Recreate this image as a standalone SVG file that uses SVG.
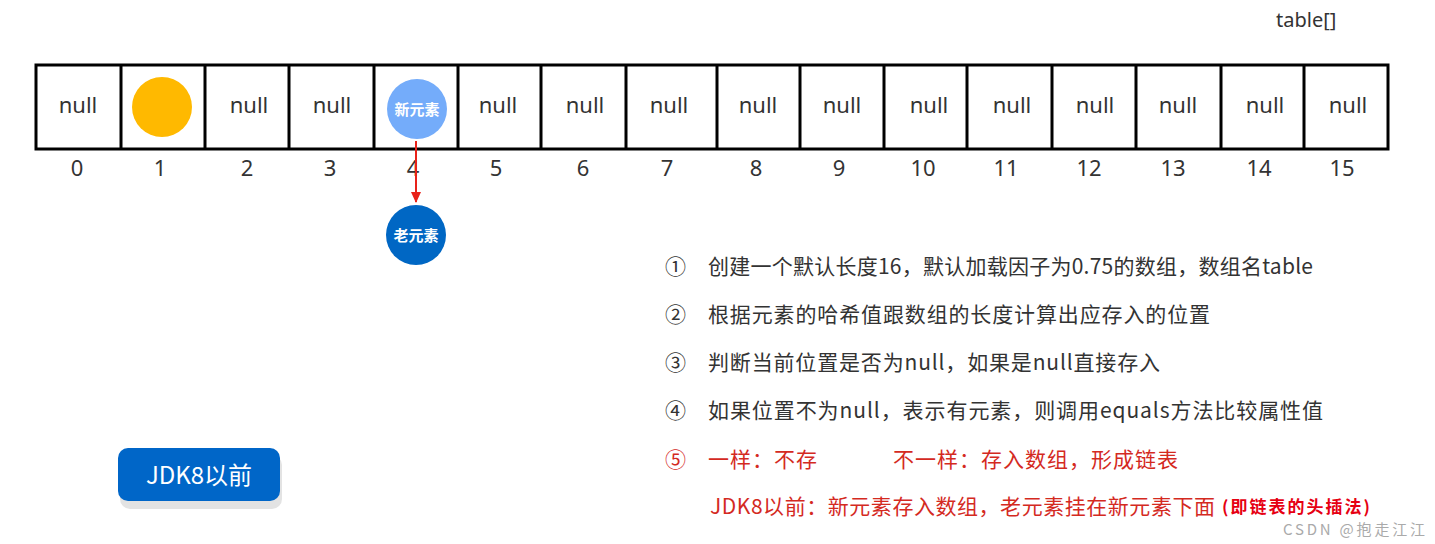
<svg xmlns="http://www.w3.org/2000/svg" width="1435" height="544" viewBox="0 0 1435 544">
<defs>
<style>
.cell{fill:#fff;stroke:#000;stroke-width:3}
.nul{font-family:"Noto Sans","Open Sans",sans-serif;font-size:22px;fill:#333;text-anchor:middle}
.idx{font-family:"Noto Sans","Open Sans",sans-serif;font-size:22px;fill:#333;text-anchor:middle}
.txt{font-family:"Noto Sans CJK SC","Noto Sans",sans-serif;font-size:21px;fill:#333}
.red{fill:#d42a1f}
.wt{font-family:"Noto Sans CJK SC",sans-serif;font-weight:bold;fill:#fff;text-anchor:middle}
</style>
<marker id="ah" markerWidth="11" markerHeight="10" refX="10" refY="5" orient="auto" markerUnits="userSpaceOnUse" viewBox="0 0 11 10">
<path d="M0,0 L11,5 L0,10 Z" fill="#e8221a"/>
</marker>
</defs>
<rect width="1435" height="544" fill="#fff"/>
<text x="1276" y="27" font-family="Noto Sans,Open Sans,sans-serif" font-size="20" fill="#333">table[]</text>
<g id="table">
<rect class="cell" x="36" y="65" width="1352" height="84"/>
<path d="M121,65V149M205,65V149M289,65V149M374,65V149M458,65V149M541,65V149M626,65V149M717,65V149M800,65V149M884,65V149M967,65V149M1052,65V149M1136,65V149M1221,65V149M1304,65V149" stroke="#000" stroke-width="3"/>
<g>
<text class="nul" x="78" y="113">null</text>
<text class="nul" x="249" y="113">null</text>
<text class="nul" x="332" y="113">null</text>
<text class="nul" x="498" y="113">null</text>
<text class="nul" x="585" y="113">null</text>
<text class="nul" x="669" y="113">null</text>
<text class="nul" x="758" y="113">null</text>
<text class="nul" x="842" y="113">null</text>
<text class="nul" x="929" y="113">null</text>
<text class="nul" x="1012" y="113">null</text>
<text class="nul" x="1095" y="113">null</text>
<text class="nul" x="1178" y="113">null</text>
<text class="nul" x="1265" y="113">null</text>
<text class="nul" x="1348" y="113">null</text>
</g>
<g>
<text class="idx" x="77" y="176">0</text>
<text class="idx" x="160" y="176">1</text>
<text class="idx" x="247" y="176">2</text>
<text class="idx" x="330" y="176">3</text>
<text class="idx" x="413" y="176">4</text>
<text class="idx" x="496" y="176">5</text>
<text class="idx" x="583" y="176">6</text>
<text class="idx" x="667" y="176">7</text>
<text class="idx" x="756" y="176">8</text>
<text class="idx" x="839" y="176">9</text>
<text class="idx" x="923" y="176">10</text>
<text class="idx" x="1006" y="176">11</text>
<text class="idx" x="1089" y="176">12</text>
<text class="idx" x="1173" y="176">13</text>
<text class="idx" x="1259" y="176">14</text>
<text class="idx" x="1342" y="176">15</text>
</g>
</g>
<g id="element1"><circle cx="162" cy="107" r="30" fill="#ffb900"/></g>
<g id="newElement">
<circle cx="417" cy="109" r="30" fill="#74acfa"/>
<text class="wt" x="417" y="115" font-size="15">新元素</text>
</g>
<g id="oldElement">
<circle cx="416" cy="235" r="30" fill="#0067c4"/>
<text class="wt" x="416" y="241" font-size="15">老元素</text>
</g>
<g id="connectors">
<line x1="416" y1="141" x2="416" y2="202" stroke="#e8221a" stroke-width="2" marker-end="url(#ah)"/>
</g>
<g id="jdk8">
<rect x="120" y="455" width="162" height="54" rx="10" fill="#e3e3e3"/>
<rect x="118" y="448" width="162" height="53" rx="10" fill="#0066c8"/>
<text x="199" y="484" font-family="Noto Sans CJK SC,sans-serif" font-size="24" fill="#fff" text-anchor="middle">JDK8以前</text>
</g>
<g id="steps">
<text class="txt" x="665" y="274">①</text>
<text class="txt" x="708" y="274" textLength="605">创建一个默认长度16，默认加载因子为0.75的数组，数组名table</text>
<text class="txt" x="665" y="322">②</text>
<text class="txt" x="708" y="322" textLength="502">根据元素的哈希值跟数组的长度计算出应存入的位置</text>
<text class="txt" x="665" y="370">③</text>
<text class="txt" x="708" y="370" textLength="452">判断当前位置是否为null，如果是null直接存入</text>
<text class="txt" x="665" y="418">④</text>
<text class="txt" x="708" y="418" textLength="615">如果位置不为null，表示有元素，则调用equals方法比较属性值</text>
<text class="txt red" x="665" y="467">⑤</text>
<text class="txt red" x="708" y="467" textLength="109">一样：不存</text>
<text class="txt red" x="893" y="467" textLength="285">不一样：存入数组，形成链表</text>
<text class="txt red" x="710" y="514" textLength="505">JDK8以前：新元素存入数组，老元素挂在新元素下面</text>
<text x="1222" y="513" font-family="Noto Sans CJK SC,sans-serif" font-size="17" font-weight="bold" fill="#e60012" textLength="148">(即链表的头插法)</text>
</g>
<text x="1283" y="535" font-family="Noto Sans CJK SC,sans-serif" font-size="15" fill="#aaa" textLength="142">CSDN @抱走江江</text>
</svg>
